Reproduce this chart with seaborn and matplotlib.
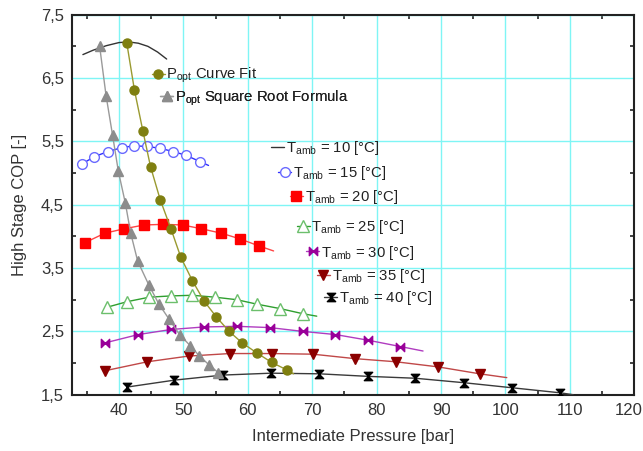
import numpy as np
import matplotlib
matplotlib.use("Agg")
import matplotlib.pyplot as plt
import matplotlib.transforms as mtransforms
from matplotlib.path import Path
from matplotlib.ticker import FixedLocator
import seaborn as sns

# ---------------- data ----------------
t10_x = [34.4, 36.0, 38.0, 40.0, 41.5, 43.0, 44.5, 46.0, 47.4]
t10_y = [6.87, 6.94, 7.01, 7.06, 7.07, 7.05, 7.00, 6.91, 6.80]

t15_x = [34.2, 36.2, 38.3, 40.4, 42.3, 44.4, 46.4, 48.4, 50.4, 52.6]
t15_y = [5.14, 5.26, 5.34, 5.40, 5.43, 5.42, 5.39, 5.34, 5.28, 5.18]
t15_end = (53.9, 5.12)

t20_x = [34.7, 37.8, 40.8, 43.9, 46.9, 49.9, 52.8, 55.9, 58.8, 61.7]
t20_y = [3.90, 4.05, 4.12, 4.18, 4.19, 4.18, 4.12, 4.05, 3.96, 3.85]
t20_end = (64.0, 3.77)

t25_x = [38.1, 41.3, 44.7, 48.1, 51.4, 54.9, 58.3, 61.4, 65.0, 68.5]
t25_y = [2.88, 2.97, 3.04, 3.06, 3.07, 3.04, 3.00, 2.93, 2.86, 2.78]
t25_end = (70.7, 2.74)

t30_x = [37.9, 43.0, 48.1, 53.2, 58.3, 63.4, 68.5, 73.6, 78.7, 83.7]
t30_y = [2.32, 2.45, 2.53, 2.57, 2.58, 2.56, 2.50, 2.45, 2.36, 2.26]
t30_end = (87.2, 2.19)

t35_x = [37.9, 44.4, 50.8, 57.2, 63.7, 70.1, 76.6, 83.0, 89.5, 96.0]
t35_y = [1.88, 2.02, 2.11, 2.15, 2.15, 2.14, 2.07, 2.02, 1.94, 1.83]
t35_end = (100.2, 1.77)

t40_x = [41.2, 48.6, 56.1, 63.6, 71.1, 78.6, 86.0, 93.5, 101.0, 108.5]
t40_y = [1.62, 1.73, 1.81, 1.84, 1.83, 1.79, 1.76, 1.69, 1.61, 1.53]
t40_end = (110.5, 1.50)

popt_fit_x = [41.2, 42.4, 43.7, 44.9, 46.4, 48.1, 49.6, 51.4, 53.2, 55.1,
              57.1, 59.1, 61.4, 63.7, 66.1]
popt_fit_y = [7.06, 6.31, 5.67, 5.10, 4.58, 4.11, 3.67, 3.30, 2.98, 2.73,
              2.50, 2.32, 2.16, 2.01, 1.89]
popt_fit_end = (67.1, 1.83)

popt_sqrt_x = [37.0, 38.0, 39.0, 39.9, 41.0, 41.8, 42.9, 44.6, 46.2, 47.8,
               49.4, 51.1, 52.5, 54.0, 55.4]
popt_sqrt_y = [7.00, 6.22, 5.60, 5.03, 4.52, 4.06, 3.61, 3.24, 2.93, 2.69,
               2.45, 2.27, 2.11, 1.97, 1.85]

x_ticks = [40, 50, 60, 70, 80, 90, 100, 110, 120]
x_ticklabels = ["40", "50", "60", "70", "80", "90", "100", "110", "120"]
y_ticks = [1.5, 2.5, 3.5, 4.5, 5.5, 6.5, 7.5]
y_ticklabels = ["1,5", "2,5", "3,5", "4,5", "5,5", "6,5", "7,5"]

# ---------------- style ----------------
sns.set_style("white")
plt.rcParams["font.family"] = ["Liberation Sans", "DejaVu Sans"]
plt.rcParams["mathtext.fontset"] = "custom"
plt.rcParams["mathtext.rm"] = "Liberation Sans"
plt.rcParams["mathtext.it"] = "Liberation Sans:italic"

fig = plt.figure(figsize=(6.43, 4.51), dpi=100)
ax = fig.add_axes([0.1124, 0.1248, 0.8741, 0.8426])

hourglass = Path([(-1, 1), (1, 1), (-1, -1), (1, -1), (-1, 1)],
                 [Path.MOVETO, Path.LINETO, Path.LINETO, Path.LINETO, Path.CLOSEPOLY])
bowtie = Path([(-1, 1), (-1, -1), (1, 1), (1, -1), (-1, 1)],
              [Path.MOVETO, Path.LINETO, Path.LINETO, Path.LINETO, Path.CLOSEPOLY])


def series(xs, ys, end, line_color, marker, ms, mfc, mec, mew=1.0, z=3):
    lx = list(xs) + ([end[0]] if end else [])
    ly = list(ys) + ([end[1]] if end else [])
    kw = {}
    if marker is not None:
        kw = dict(marker=marker, markersize=ms, markerfacecolor=mfc,
                  markeredgecolor=mec, markeredgewidth=mew,
                  markevery=list(range(len(xs))))
    sns.lineplot(x=lx, y=ly, ax=ax, color=line_color, linewidth=1.0,
                 sort=False, estimator=None, zorder=z, **kw)
    return ax.lines[-1]


h10 = series(t10_x, t10_y, None, "#333333", None, 0, None, None)
h15 = series(t15_x, t15_y, t15_end, "#2f2fff", "o", 7, "white", "#6a6aff")
h20 = series(t20_x, t20_y, t20_end, "#ff4444", "s", 6.5, "#ff0000", "#ff0000")
h25 = series(t25_x, t25_y, t25_end, "#2f9f2f", "^", 8.5, "white", "#6cbf6c")
h30 = series(t30_x, t30_y, t30_end, "#b03cc0", bowtie, 6, "#990099", "#990099")
h35 = series(t35_x, t35_y, t35_end, "#c04848", "v", 7, "#8b0000", "#8b0000")
h40 = series(t40_x, t40_y, t40_end, "#3a3a3a", hourglass, 6, "#000000", "#000000")
hpf = series(popt_fit_x, popt_fit_y, popt_fit_end, "#9a9a30", "o", 6.5, "#7f7f10", "#7f7f10", z=4)
hps = series(popt_sqrt_x, popt_sqrt_y, None, "#9a9a9a", "^", 7, "#8c8c8c", "#8c8c8c", z=4)

# ---------------- axes ----------------
ax.set_xlim(32.75, 120)
ax.set_ylim(1.5, 7.5)
ax.xaxis.set_major_locator(FixedLocator(x_ticks))
ax.set_xticklabels(x_ticklabels)
ax.yaxis.set_major_locator(FixedLocator(y_ticks))
ax.set_yticklabels(y_ticklabels)
ax.xaxis.set_minor_locator(FixedLocator([35, 45, 55, 65, 75, 85, 95, 105, 115]))
ax.yaxis.set_minor_locator(FixedLocator([2, 3, 4, 5, 6, 7]))
ax.tick_params(which="major", length=0, labelsize=12, pad=6, colors="#333333")
ax.tick_params(which="minor", direction="in", length=3, width=1.2, color="#222222",
               top=True, right=True, bottom=True, left=True)
ax.grid(True, which="major", color="#7ff5f5", linewidth=1.0, zorder=0)
ax.set_axisbelow(True)
for s in ax.spines.values():
    s.set_visible(True)
    s.set_color("#222222")
    s.set_linewidth(1.5)

# keep the last x tick label inside the figure, as in the reference
last = ax.get_xticklabels()[-1]
last.set_transform(last.get_transform() +
                   mtransforms.ScaledTranslation(-6 / 100, 0, fig.dpi_scale_trans))

ax.set_xlabel("Intermediate Pressure [bar]", fontsize=12, color="#333333", labelpad=8)
ax.set_ylabel("High Stage COP [-]", fontsize=12, color="#333333", labelpad=10)

# ---------------- staggered legend entries ----------------
entries = [
    (h10, r"$\mathrm{T_{amb}}$ = 10 [°C]", 0.353, 0.648),
    (h15, r"$\mathrm{T_{amb}}$ = 15 [°C]", 0.366, 0.584),
    (h20, r"$\mathrm{T_{amb}}$ = 20 [°C]", 0.387, 0.521),
    (h25, r"$\mathrm{T_{amb}}$ = 25 [°C]", 0.399, 0.442),
    (h30, r"$\mathrm{T_{amb}}$ = 30 [°C]", 0.416, 0.374),
    (h35, r"$\mathrm{T_{amb}}$ = 35 [°C]", 0.435, 0.312),
    (h40, r"$\mathrm{T_{amb}}$ = 40 [°C]", 0.448, 0.254),
    (hpf, r"$\mathrm{P_{opt}}$ Curve Fit", 0.141, 0.840),
    (hps, r"$\mathrm{P_{opt}}$ Square Root Formula", 0.156, 0.780),
]
for h, lab, fx, fy in entries:
    leg = ax.legend([h], [lab], loc="center left", bbox_to_anchor=(fx, fy),
                    frameon=False, fontsize=10.7, handlelength=0.9,
                    handletextpad=0.1, borderpad=0, borderaxespad=0,
                    numpoints=1, labelcolor="#222222")
    ax.add_artist(leg)

fig.savefig("out.png", dpi=100)
